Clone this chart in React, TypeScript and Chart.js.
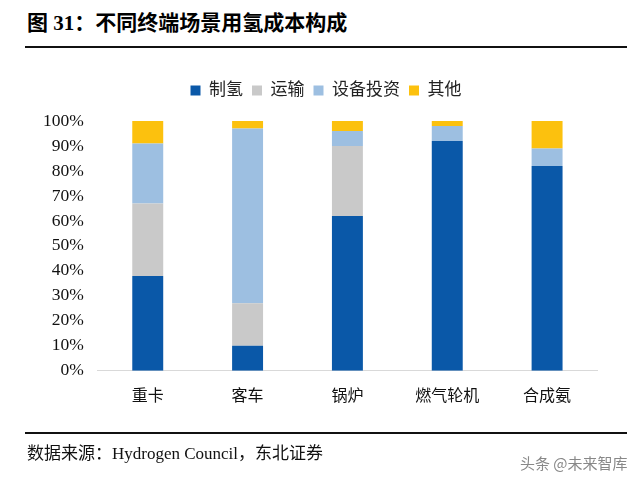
import React, { useEffect, useRef } from "react";
import { Chart, registerables } from "chart.js";

Chart.register(...registerables);

const categories = ["重卡", "客车", "锅炉", "燃气轮机", "合成氨"];
const seriesNames = ["制氢", "运输", "设备投资", "其他"];
const hydrogenProduction = [38, 10, 62, 92, 82];
const transport = [29, 17, 28, 0, 0];
const equipment = [24, 70, 6, 6, 7];
const other = [9, 3, 4, 2, 11];
const seriesColors = ["#0a58a8", "#c9c9c9", "#9dbfe1", "#fcc10e"];

const SERIF = "'Liberation Serif', 'Noto Sans CJK SC', serif";

const legendPlacementPlugin = {
  id: "legendPlacement",
  beforeInit(chart: any) {
    const legend = chart.legend;
    if (!legend) return;
    const orig = legend.fit;
    legend.fit = function () {
      orig.call(this);
      this.height = 48;
    };
  },
  afterLayout(chart: any) {
    const legend = chart.legend;
    if (!legend) return;
    legend.left += 9;
    legend.right += 9;
  },
};

export default function App() {
  const ref = useRef<HTMLCanvasElement | null>(null);
  useEffect(() => {
    if (!ref.current) return;
    const values = [hydrogenProduction, transport, equipment, other];
    const chart = new Chart(ref.current, {
      type: "bar",
      data: {
        labels: categories,
        datasets: seriesNames.map((name, i) => ({
          label: name,
          data: values[i],
          backgroundColor: seriesColors[i],
          borderWidth: 0,
          barPercentage: 0.62,
          categoryPercentage: 0.5,
        })),
      },
      plugins: [legendPlacementPlugin],
      options: {
        responsive: false,
        animation: false,
        layout: { padding: { top: 73, left: 37, right: 44, bottom: 76 } },
        plugins: {
          legend: {
            position: "top",
            labels: {
              boxWidth: 10,
              boxHeight: 10,
              padding: 9,
              color: "#222",
              font: { family: SERIF, size: 17 },
            },
          },
          tooltip: { enabled: false },
        },
        scales: {
          x: {
            stacked: true,
            grid: { display: false },
            border: { display: true, color: "#d9d9d9", width: 1 },
            ticks: { color: "#111", font: { family: SERIF, size: 16 }, padding: 8 },
          },
          y: {
            stacked: true,
            min: 0,
            max: 100,
            grid: { display: false },
            border: { display: false },
            ticks: {
              stepSize: 10,
              color: "#111",
              padding: 6,
              font: { family: SERIF, size: 17.5 },
              callback: (v: any) => v + "%",
            },
          },
        },
      },
    });
    return () => chart.destroy();
  }, []);

  return (
    <div style={{ position: "fixed", left: 0, top: 0, width: 641, height: 490, background: "#fff", overflow: "hidden" }}>
      <div style={{ position: "absolute", left: 27, top: 6, fontFamily: "'Liberation Serif', 'Noto Sans CJK SC', serif", fontWeight: 700, fontSize: 21, color: "#000", whiteSpace: "nowrap" }}>
        图&nbsp;31：不同终端场景用氢成本构成
      </div>
      <div style={{ position: "absolute", left: 25, top: 46, width: 602, height: 2, background: "#111" }} />
      <canvas ref={ref} width={641} height={490} style={{ position: "absolute", left: 0, top: 0 }} />
      <div style={{ position: "absolute", left: 25, top: 432, width: 602, height: 2, background: "#111" }} />
      <div style={{ position: "absolute", left: 27, top: 439, fontFamily: SERIF, fontSize: 17, color: "#111", whiteSpace: "nowrap" }}>
        数据来源：Hydrogen Council，东北证券
      </div>
      <div style={{ position: "absolute", left: 520, top: 452, fontFamily: "'Noto Sans CJK SC', sans-serif", fontSize: 15, color: "#888", whiteSpace: "nowrap" }}>
        头条 @未来智库
      </div>
    </div>
  );
}
